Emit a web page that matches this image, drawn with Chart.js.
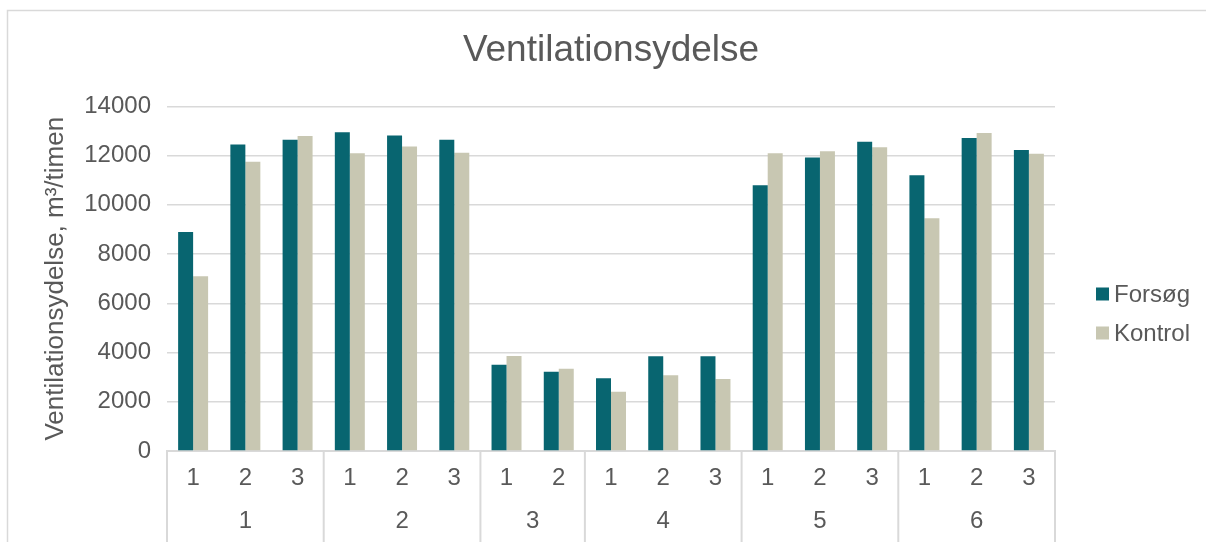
<!DOCTYPE html>
<html>
<head>
<meta charset="utf-8">
<script src="https://cdn.jsdelivr.net/npm/chart.js@4/dist/chart.umd.min.js"></script>
<style>
  html, body { margin: 0; padding: 0; background: #fff; }
  #wrap { width: 1206px; height: 542px; }
</style>
</head>
<body>
<div id="wrap"><canvas id="chart" width="1206" height="542"></canvas></div>
<script>
const subLabels = ["1", "2", "3", "1", "2", "3", "1", "2", "1", "2", "3", "1", "2", "3", "1", "2", "3"];
const groupLabels = ["1", "1", "1", "2", "2", "2", "3", "3", "4", "4", "4", "5", "5", "5", "6", "6", "6"];
const forsog = [8900, 12450, 12650, 12950, 12820, 12650, 3500, 3220, 2960, 3850, 3850, 10800, 11920, 12560, 11200, 12720, 12230];
const kontrol = [7100, 11750, 12800, 12100, 12370, 12120, 3860, 3340, 2410, 3080, 2930, 12100, 12180, 12340, 9460, 12920, 12080];
const yTicks = [0, 2000, 4000, 6000, 8000, 10000, 12000, 14000];

const textColor = "#595959";
const lineColor = "#D9D9D9";
Chart.defaults.font.family = "'Liberation Sans', Arial, sans-serif";
Chart.defaults.color = textColor;

// frame, group labels under the axis, and the legend on the right
const extras = {
  id: "extras",
  beforeDraw(chart) {
    const { ctx } = chart;
    ctx.save();
    ctx.fillStyle = "#fff";
    ctx.fillRect(0, 0, chart.width, chart.height);
    ctx.strokeStyle = lineColor;
    ctx.lineWidth = 1.5;
    ctx.strokeRect(7.5, 10.5, chart.width + 20, chart.height + 20);
    ctx.restore();
  },
  afterDraw(chart) {
    const { ctx, chartArea } = chart;
    const x = chart.scales.x;
    const half = (x.getPixelForValue(1) - x.getPixelForValue(0)) / 2;
    ctx.save();
    ctx.strokeStyle = lineColor;
    ctx.lineWidth = 2;
    ctx.fillStyle = textColor;
    ctx.font = "24px 'Liberation Sans', Arial, sans-serif";
    ctx.textAlign = "center";
    ctx.textBaseline = "middle";

    let start = 0;
    for (let i = 1; i <= groupLabels.length; i++) {
      if (i === groupLabels.length || groupLabels[i] !== groupLabels[start]) {
        const x0 = x.getPixelForValue(start) - half;
        const x1 = x.getPixelForValue(i - 1) + half;
        ctx.fillText(groupLabels[start], (x0 + x1) / 2, chartArea.bottom + 70);
        start = i;
      }
    }
    const edges = [x.getPixelForValue(0) - half];
    for (let i = 1; i < groupLabels.length; i++) {
      if (groupLabels[i] !== groupLabels[i - 1]) edges.push(x.getPixelForValue(i) - half);
    }
    edges.push(x.getPixelForValue(groupLabels.length - 1) + half);
    edges.forEach((e) => {
      ctx.beginPath();
      ctx.moveTo(e, chartArea.bottom);
      ctx.lineTo(e, chart.height);
      ctx.stroke();
    });

    // legend
    ctx.textAlign = "left";
    chart.data.datasets.forEach((ds, i) => {
      const cy = 294 + i * 39;
      const bx = chartArea.right + 41;
      ctx.fillStyle = ds.backgroundColor;
      ctx.fillRect(bx, cy - 6.5, 13, 13);
      ctx.fillStyle = textColor;
      ctx.fillText(ds.label, bx + 18, cy + 1);
    });
    ctx.restore();
  },
};

new Chart(document.getElementById("chart"), {
  type: "bar",
  data: {
    labels: subLabels,
    datasets: [
      { label: "Forsøg", data: forsog, backgroundColor: "#086570" },
      { label: "Kontrol", data: kontrol, backgroundColor: "#C8C7B2" },
    ],
  },
  options: {
    responsive: false,
    animation: false,
    layout: { padding: { left: 0, top: 10, right: 151, bottom: 0 } },
    datasets: { bar: { barPercentage: 1, categoryPercentage: 0.574 } },
    plugins: {
      legend: { display: false },
      tooltip: { enabled: false },
      title: {
        display: true,
        fullSize: false,
        text: "Ventilationsydelse",
        color: textColor,
        font: { size: 37, weight: "normal" },
        padding: { top: 19, bottom: 33 },
      },
    },
    scales: {
      x: {
        grid: { display: false, drawTicks: false },
        border: { display: true, color: lineColor, width: 2 },
        ticks: { font: { size: 24 }, padding: 13, maxRotation: 0, autoSkip: false },
        afterFit(scale) { scale.height = 91; },
      },
      y: {
        min: 0,
        max: 14000,
        afterBuildTicks(scale) { scale.ticks = yTicks.map((v) => ({ value: v })); },
        grid: { color: lineColor, lineWidth: 1.5, drawTicks: false },
        border: { display: false },
        ticks: { font: { size: 24 }, padding: 16, callback: (v) => String(v) },
        title: {
          display: true,
          text: "Ventilationsydelse, m³/timen",
          color: textColor,
          font: { size: 26 },
          padding: { top: 40 },
        },
        afterFit(scale) { scale.width = 167; },
      },
    },
  },
  plugins: [extras],
});
</script>
</body>
</html>
